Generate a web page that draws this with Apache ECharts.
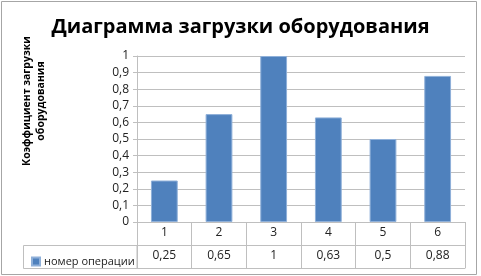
<!DOCTYPE html>
<html><head><meta charset="utf-8">
<script src="https://cdn.jsdelivr.net/npm/echarts@6/dist/echarts.min.js"></script>
<style>html,body{margin:0;padding:0;background:#fff}#c{width:481px;height:276px}</style>
</head><body><div id="c"></div>
<script>
var titleText = 'Диаграмма загрузки оборудования';
var yAxisTitle = 'Коэффициент загрузки\nоборудования';
var seriesName = 'номер операции';
var categories = ['1', '2', '3', '4', '5', '6'];
var values = [0.25, 0.65, 1, 0.63, 0.5, 0.88];
var yTicks = {min: 0, max: 1, step: 0.1};

function fmt(v){ return String(+(+v).toFixed(2)).replace('.', ','); }

var FONT = 'Open Sans';
var LINE = '#bfbfbf';
var chart = echarts.init(document.getElementById('c'), null, {renderer: 'canvas'});
chart.setOption({
  animation: false,
  backgroundColor: '#fff',
  textStyle: {fontFamily: FONT},
  title: {
    text: titleText, left: 'center', top: 12,
    textStyle: {fontFamily: FONT, fontWeight: 'bold', fontSize: 20, color: '#000'}
  },
  legend: {
    left: 26, top: 251, itemWidth: 8, itemHeight: 8, itemGap: 4,
    icon: 'rect', data: [seriesName],
    textStyle: {fontFamily: FONT, fontSize: 11, color: '#222', padding: [0,0,0,-1]}
  },
  grid: {left: 137, right: 16, top: 56, bottom: 54},
  xAxis: [{
    type: 'category', data: categories, position: 'bottom',
    axisLine: {show: true, lineStyle: {color: LINE}},
    axisTick: {show: true, length: 23, lineStyle: {color: LINE}},
    axisLabel: {fontSize: 12, color: '#222', margin: 5}
  }, {
    type: 'category', data: values.map(fmt), position: 'bottom', offset: 23,
    axisLine: {show: true, lineStyle: {color: LINE}},
    axisTick: {show: true, length: 23, lineStyle: {color: LINE}},
    axisLabel: {fontSize: 12, color: '#222', margin: 5}
  }, {
    type: 'category', data: categories, position: 'bottom', offset: 46,
    axisLine: {show: true, lineStyle: {color: LINE}},
    axisTick: {show: false}, axisLabel: {show: false}
  }],
  yAxis: {
    type: 'value', min: yTicks.min, max: yTicks.max, interval: yTicks.step,
    axisLine: {show: true, lineStyle: {color: LINE}},
    axisTick: {show: true, length: 4, lineStyle: {color: LINE}},
    splitLine: {lineStyle: {color: LINE}},
    axisLabel: {fontSize: 12, color: '#222', margin: 8, formatter: fmt}
  },
  series: [{
    name: seriesName, type: 'bar', data: values, barWidth: '49%',
    itemStyle: {color: '#4f81bd', borderColor: '#8fb0d9', borderWidth: 1}
  }],
  graphic: [
    {type: 'text', x: 34, y: 101, rotation: Math.PI / 2, silent: true,
     style: {text: yAxisTitle, textAlign: 'center', textVerticalAlign: 'middle',
             fontFamily: FONT, fontWeight: 'bold', fontSize: 10.5, lineHeight: 14, fill: '#000'}},
    {type: 'rect', shape: {x: 23.5, y: 245.5, width: 113.5, height: 23}, style: {fill: 'none', stroke: LINE, lineWidth: 1}, silent: true},
    {type: 'rect', shape: {x: 1.5, y: 1.5, width: 475, height: 273}, style: {fill: 'none', stroke: '#a6a6a6', lineWidth: 1}, silent: true, z: -1}
  ]
});
</script></body></html>
